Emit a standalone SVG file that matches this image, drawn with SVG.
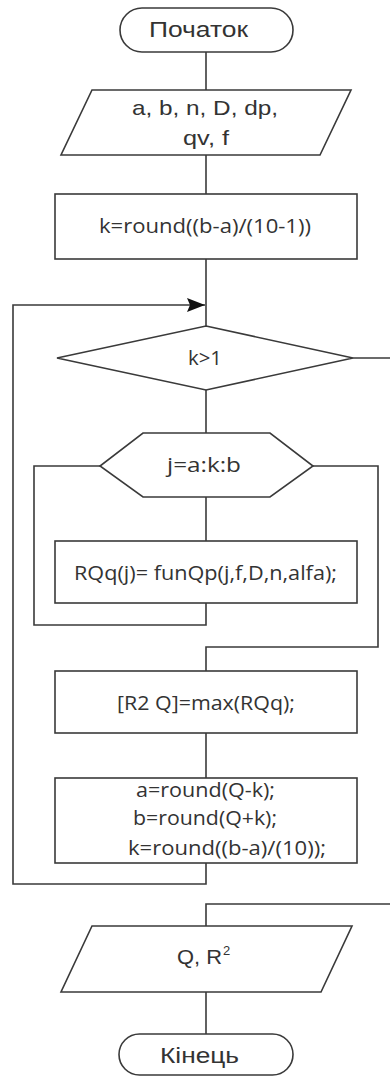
<svg xmlns="http://www.w3.org/2000/svg" width="390" height="1077" viewBox="0 0 390 1077">
<defs>
<marker id="arrow" viewBox="0 0 18 14" refX="18" refY="7" markerWidth="18" markerHeight="14" markerUnits="userSpaceOnUse" orient="auto">
<path d="M0,0 L18,7 L0,14 L3,7 z" fill="#111"/>
</marker>
</defs>
<style>
.shape{fill:#fff;stroke:#3a3a3a;stroke-width:1.6}
.conn{fill:none;stroke:#3a3a3a;stroke-width:1.6}
.ta{font-family:"Liberation Sans",Arial,sans-serif;fill:#333;text-anchor:start}
.tc{font-family:"Open Sans","Noto Sans",sans-serif;fill:#333;text-anchor:start}
</style>
<rect width="390" height="1077" fill="#fff"/>
<g id="connectors">
<path class="conn" d="M206,52 V90"/>
<path class="conn" d="M206,155 V194"/>
<path class="conn" d="M206,259 V326"/>
<path class="conn" d="M206,863 V884 H13 V305 H205" marker-end="url(#arrow)"/>
<path class="conn" d="M353,358 H390"/>
<path class="conn" d="M206,390 V433"/>
<path class="conn" d="M206,497 V541"/>
<path class="conn" d="M206,603 V625 H34 V466 H100"/>
<path class="conn" d="M313,466 H378 V647 H206 V671"/>
<path class="conn" d="M206,733 V778"/>
<path class="conn" d="M390,904 H206 V926"/>
<path class="conn" d="M206,992 V1034"/>
</g>
<g id="start">
<rect class="shape" x="120" y="8" width="173" height="44" rx="22" ry="22"/>
<text class="ta" x="149" y="37" font-size="22" textLength="99" lengthAdjust="spacingAndGlyphs">Початок</text>
</g>
<g id="input">
<polygon class="shape" points="92,90 351,90 320,155 61,155"/>
<text class="ta" x="132" y="115" font-size="21" textLength="146" lengthAdjust="spacingAndGlyphs">a, b, n, D, dp,</text>
<text class="ta" x="183" y="145" font-size="21" textLength="46" lengthAdjust="spacingAndGlyphs">qv, f</text>
</g>
<g id="init-k">
<rect class="shape" x="55" y="194" width="302" height="65"/>
<text class="tc" x="99" y="233" font-size="20" textLength="212" lengthAdjust="spacingAndGlyphs">k=round((b-a)/(10-1))</text>
</g>
<g id="cond">
<polygon class="shape" points="206,326 353,358 206,390 57,358"/>
<text class="tc" x="188" y="365" font-size="20" textLength="34" lengthAdjust="spacingAndGlyphs">k&gt;1</text>
</g>
<g id="loop">
<polygon class="shape" points="143,433 270,433 313,466 270,497 143,497 100,466"/>
<text class="tc" x="167" y="472" font-size="20" textLength="74" lengthAdjust="spacingAndGlyphs">j=a:k:b</text>
</g>
<g id="calc">
<rect class="shape" x="55" y="541" width="302" height="62"/>
<text class="tc" x="74" y="580" font-size="20" textLength="263" lengthAdjust="spacingAndGlyphs">RQq(j)= funQp(j,f,D,n,alfa);</text>
</g>
<g id="max">
<rect class="shape" x="55" y="671" width="302" height="62"/>
<text class="tc" x="117" y="710" font-size="20" textLength="178" lengthAdjust="spacingAndGlyphs">[R2 Q]=max(RQq);</text>
</g>
<g id="update">
<rect class="shape" x="55" y="778" width="302" height="85"/>
<text class="tc" x="136" y="797" font-size="20" textLength="139" lengthAdjust="spacingAndGlyphs">a=round(Q-k);</text>
<text class="tc" x="133" y="825" font-size="20" textLength="144" lengthAdjust="spacingAndGlyphs">b=round(Q+k);</text>
<text class="tc" x="128" y="855" font-size="20" textLength="198" lengthAdjust="spacingAndGlyphs">k=round((b-a)/(10));</text>
</g>
<g id="output">
<polygon class="shape" points="92,926 352,926 321,992 61,992"/>
<text class="ta" x="177" y="964" font-size="21" textLength="45" lengthAdjust="spacingAndGlyphs">Q, R</text>
<text class="ta" x="223" y="955" font-size="13">2</text>
</g>
<g id="end">
<rect class="shape" x="119" y="1034" width="174" height="41" rx="20.5" ry="20.5"/>
<text class="ta" x="160" y="1063" font-size="22" textLength="79" lengthAdjust="spacingAndGlyphs">Кінець</text>
</g>
</svg>
